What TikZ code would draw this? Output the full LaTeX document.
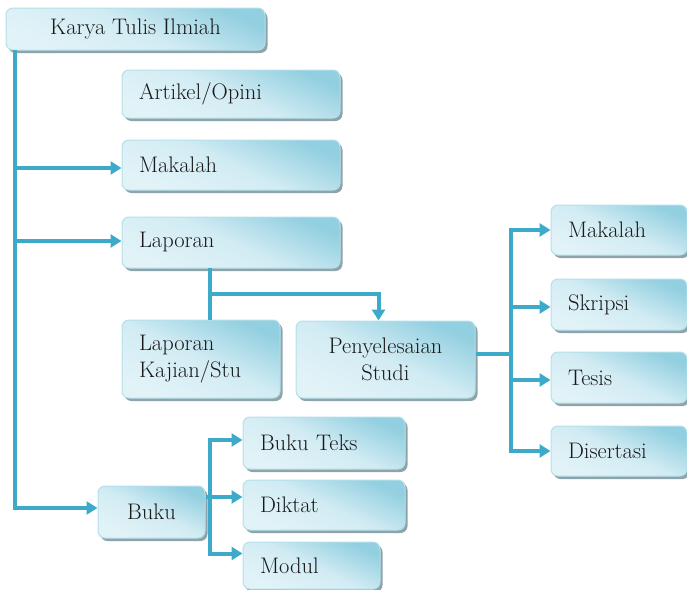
\documentclass[tikz,border=0pt]{standalone}
\usepackage{tikz}
\usepackage{xcolor}
\usetikzlibrary{arrows.meta,shadows}

\definecolor{garisBiru}{HTML}{3CAAC8}
\definecolor{biruTua}{HTML}{92CFE0}
\definecolor{biruMuda}{HTML}{E2F3F8}
\definecolor{tepiBiru}{HTML}{B4E0EA}
\definecolor{bayang}{HTML}{8FA3AA}

\begin{document}
\begin{tikzpicture}[x=1pt, y=-1pt,
    kotak/.style={draw=tepiBiru, line width=1pt, rounded corners=7pt,
        top color=biruTua, bottom color=biruMuda, middle color=biruMuda!80!biruTua, shading angle=-25,
        drop shadow={shadow xshift=2.5pt, shadow yshift=-3pt, fill=bayang, opacity=1},
        font=\fontsize{22.5}{27}\selectfont, text=black!90, inner xsep=17pt, align=left},
    garis/.style={draw=garisBiru, line width=4pt},
    panah/.style={garis, -{Triangle[width=13pt,length=11pt]}}]
    \useasboundingbox (0,0) rectangle (687,589);

    % Kotak-kotak utama
    \node[kotak, minimum width=259pt, minimum height=42pt, align=center] (karya) at (135.5,29) {Karya Tulis Ilmiah};
    \node[kotak, minimum width=218pt, minimum height=48pt, text width=184pt] (artikel) at (231,94) {Artikel/Opini};
    \node[kotak, minimum width=218pt, minimum height=50pt, text width=184pt] (makalahA) at (231,165) {Makalah};
    \node[kotak, minimum width=218pt, minimum height=51pt, text width=184pt] (laporan) at (231,242.5) {Laporan};

    % Cabang laporan
    \node[kotak, minimum width=158pt, minimum height=78pt, text width=124pt] (kajian) at (201,359) {Laporan\\Kajian/Stu};
    \node[kotak, minimum width=179pt, minimum height=77pt, align=center] (selesai) at (385.5,359.5) {Penyelesaian\\Studi};

    % Kotak kanan
    \node[kotak, minimum width=136pt, minimum height=50pt, text width=102pt] (makalahB) at (619,230) {Makalah};
    \node[kotak, minimum width=136pt, minimum height=51pt, text width=102pt] (skripsi) at (619,304.5) {Skripsi};
    \node[kotak, minimum width=136pt, minimum height=51pt, text width=102pt] (tesis) at (619,377.5) {Tesis};
    \node[kotak, minimum width=136pt, minimum height=50pt, text width=102pt] (disertasi) at (619,451) {Disertasi};

    % Cabang buku
    \node[kotak, minimum width=107pt, minimum height=52pt, align=center] (buku) at (151.5,512) {Buku};
    \node[kotak, minimum width=162pt, minimum height=52pt, text width=128pt] (bukuteks) at (324,443) {Buku Teks};
    \node[kotak, minimum width=162pt, minimum height=50pt, text width=128pt] (diktat) at (324,505) {Diktat};
    \node[kotak, minimum width=137pt, minimum height=47pt, text width=103pt] (modul) at (311.5,565.5) {Modul};

    % Garis dari Karya Tulis Ilmiah
    \coordinate (batang) at (15,50);
    \draw[panah] (batang) |- ([yshift=4pt]buku.west);
    \draw[panah] (batang |- 0,168) -- (makalahA.west |- 0,168);
    \draw[panah] (batang |- 0,241) -- (laporan.west |- 0,241);

    % Garis dari Laporan
    \coordinate (lap) at (210,268);
    \draw[garis] (lap) -- (lap |- kajian.north);
    \draw[panah] (lap |- 0,294) -| ([xshift=-7pt]selesai.north);

    % Garis dari Penyelesaian Studi
    \coordinate (cabang) at (511,354);
    \draw[garis] (selesai.east |- cabang) -- (cabang);
    \draw[panah] (cabang) |- (makalahB.west);
    \draw[panah] (cabang) |- ([yshift=-2.5pt]skripsi.west);
    \draw[panah] (cabang) |- ([yshift=-2.5pt]tesis.west);
    \draw[panah] (cabang) |- (disertasi.west);

    % Garis dari Buku
    \coordinate (bk) at (210,497);
    \draw[panah] (bk) |- ([yshift=3pt]bukuteks.west);
    \draw[panah] (buku.east |- bk) -- ([yshift=8pt]diktat.west);
    \draw[panah] (bk) |- ([yshift=12pt]modul.west);
\end{tikzpicture}
\end{document}
